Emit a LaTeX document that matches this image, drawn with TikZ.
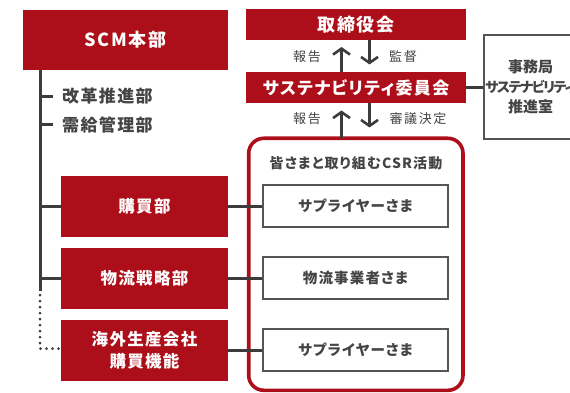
\documentclass[tikz,border=0pt]{standalone}
\usepackage{fontspec}
\setmainfont{Noto Sans CJK JP}[RawFeature=+palt, LetterSpace=8]
\newfontfamily\jpsp{Noto Sans CJK JP}[LetterSpace=12]
\newfontfamily\jpnosp{Noto Sans CJK JP}[RawFeature=+palt]
\newfontfamily\jpnarrow{Noto Sans CJK JP}[RawFeature=+palt, LetterSpace=-10]
\usetikzlibrary{arrows.meta}
\definecolor{cred}{HTML}{AD0F1A}
\definecolor{cline}{HTML}{3C3C3C}
\definecolor{ctext}{HTML}{444444}
\definecolor{cbox}{HTML}{555555}
\tikzset{
  redbox/.style={fill=cred, draw=none, text=white, font=\bfseries\fontsize{16.5}{22}\selectfont, align=center, inner sep=0pt},
  wbox/.style={draw=cbox, line width=2pt, fill=white, text=ctext, font=\bfseries\fontsize{14.5}{18}\selectfont, minimum width=185pt, minimum height=42pt, inner sep=0pt},
  conn/.style={draw=cline, line width=3pt},
  arr/.style={draw=cline, line width=2.6pt, -{Straight Barb[length=6pt,width=17pt]}},
  lbl/.style={text=ctext, font=\jpsp\fontsize{13}{15}\selectfont, inner sep=0pt},
  subdept/.style={text=ctext, font=\bfseries\fontsize{17}{20}\selectfont, inner sep=0pt, anchor=west}
}
\begin{document}
\begin{tikzpicture}[x=1pt,y=-1pt]
\useasboundingbox (0,0) rectangle (570,393);
\clip (0,0) rectangle (570,393);
% left
\node[redbox, minimum width=205pt, minimum height=60pt, font=\bfseries\fontsize{18}{22}\selectfont] (scm) at (125.5,40) {SCM本部};
\node[redbox, minimum width=167pt, minimum height=61pt] (kobai) at (144.5,206.5) {購買部};
\node[redbox, minimum width=167pt, minimum height=61pt] (butsu) at (144.5,278.5) {物流戦略部};
\node[redbox, minimum width=167pt, minimum height=61pt] (kaigai) at (144.5,350.5) {海外生産会社\\購買機能};
\coordinate (trunkend) at (40,291);
\coordinate (t1) at (53,96.5);
\coordinate (t2) at (53,125);
\coordinate (d1) at (40,295);
\coordinate (d2) at (40,348.5);
\draw[conn] (40,70) -- (trunkend);
\draw[conn] (40,96.5) -- (t1);
\draw[conn] (40,125) -- (t2);
\draw[conn] (40,206.5) -- (kobai.west);
\draw[conn] (40,278.5) -- (butsu.west);
\draw[draw=cline, line width=3pt, line cap=round, dash pattern=on 0pt off 6pt] (d1) -- (d2) -- (kaigai.west |- d2);
\node[subdept] (kaikaku) at (62,96.5) {改革推進部};
\node[subdept] (jukyu) at (62,125) {需給管理部};
% right
\node[redbox, minimum width=220pt, minimum height=31pt, font=\bfseries\fontsize{18}{22}\selectfont] (tori) at (356,24.5) {取締役会};
\node[redbox, minimum width=220pt, minimum height=31pt, font=\bfseries\fontsize{17}{22}\selectfont] (iin) at (356,87.5) {サステナビリティ委員会};
\node[draw=cbox, line width=2pt, fill=white, minimum width=94pt, minimum height=104pt, inner sep=0pt] (jimu) at (530.5,87) {};
\node[text=ctext, align=center, font=\jpnosp\bfseries\fontsize{15}{20}\selectfont, inner sep=0pt] (jimutext) at (jimu.center) {事務局\\{\jpnarrow\bfseries\fontsize{14}{20}\selectfont サステナビリティ}\\推進室};
\draw[conn] (iin.east) -- (iin.east -| jimu.west);
\draw[draw=cred, line width=3.6pt, rounded corners=15pt] (248.7,138.3) rectangle (463,390.3);
\coordinate (csrtop) at (341.5,138.3);
\node[text=ctext, font=\bfseries\fontsize{14}{18}\selectfont, inner sep=0pt] (csr) at (356,163) {皆さまと取り組むCSR活動};
\node[wbox] (s1) at (355.5,206) {サプライヤーさま};
\node[wbox] (s2) at (355.5,278) {物流事業者さま};
\node[wbox] (s3) at (355.5,350) {サプライヤーさま};
\draw[conn] (kobai.east |- s1) -- (s1.west);
\draw[conn] (butsu.east |- s2) -- (s2.west);
\draw[conn] (kaigai.east |- s3) -- (s3.west);
% arrows
\coordinate (u1) at (341.5,47);
\coordinate (dn1) at (369.5,64.5);
\coordinate (u2) at (341.5,110.5);
\coordinate (dn2) at (369.5,127.5);
\draw[arr] (iin.north -| u1) -- (u1);
\draw[arr] (tori.south -| dn1) -- (dn1);
\draw[arr] (csrtop) -- (u2);
\draw[arr] (iin.south -| dn2) -- (dn2);
\node[lbl] (r1) at (307,57) {報告};
\node[lbl] (kan) at (403,57) {監督};
\node[lbl] (r2) at (307,119) {報告};
\node[lbl] (shin) at (418,119) {審議決定};
\end{tikzpicture}
\end{document}
